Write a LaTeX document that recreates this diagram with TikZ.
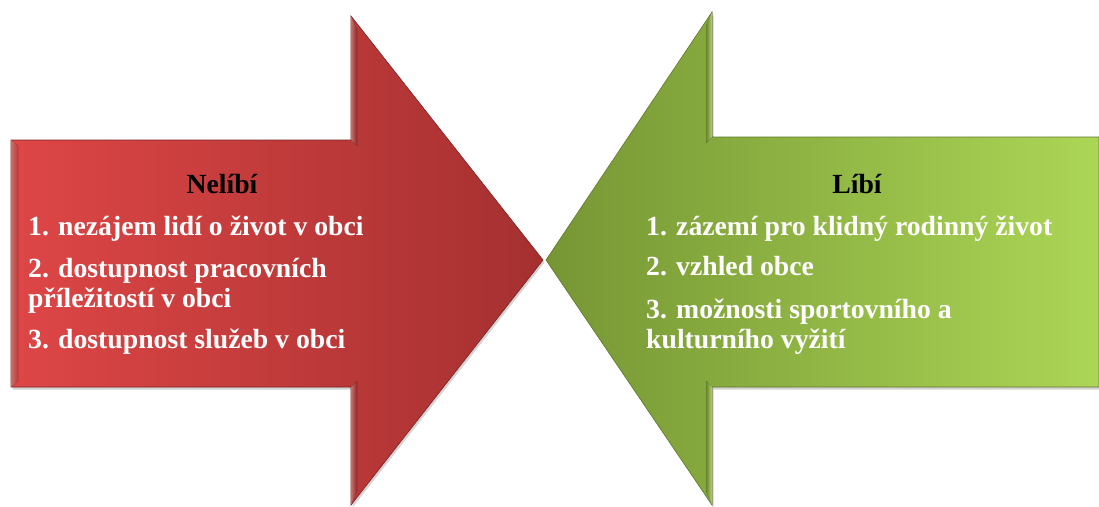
\documentclass[tikz,border=0pt]{standalone}
\usepackage{fontspec}
\setmainfont{Liberation Serif}
\usetikzlibrary{shadows}
\definecolor{redL}{RGB}{222,70,70}
\definecolor{redR}{RGB}{165,48,48}
\definecolor{redHi}{RGB}{245,135,130}
\definecolor{redEdge}{RGB}{120,35,35}
\definecolor{grnL}{RGB}{118,150,52}
\definecolor{grnR}{RGB}{172,214,86}
\definecolor{grnHi}{RGB}{215,245,130}
\definecolor{grnEdge}{RGB}{95,120,40}
\tikzset{
  arrowshape/.style={drop shadow={shadow xshift=1.5pt,shadow yshift=-2.5pt,opacity=0.35}},
  itemtext/.style={inner sep=0pt,text=white,font=\fontsize{27.7}{30}\selectfont\bfseries,align=left},
  titletext/.style={inner sep=0pt,text=black,font=\fontsize{27.7}{30}\selectfont\bfseries}
}
\begin{document}
\begin{tikzpicture}[x=1pt,y=-1pt]
\useasboundingbox (0,0) rectangle (1099,506);
% red arrow
\path[arrowshape,left color=redL,right color=redR,draw=redEdge,line width=0.6pt]
  (11,140) -- (351,140) -- (351,16) -- (543,260) -- (351,505) -- (351,387) -- (11,387) -- cycle;
\fill[left color=redHi,right color=redL,opacity=0.8] (11,140) -- (18,146) -- (18,381) -- (11,387) -- cycle;
\fill[left color=redHi,right color=redR,opacity=0.8] (351,16) -- (357,30) -- (357,146) -- (351,140) -- cycle;
\fill[left color=redHi,right color=redR,opacity=0.8] (351,387) -- (357,381) -- (357,491) -- (351,505) -- cycle;
% green arrow
\path[arrowshape,left color=grnL,right color=grnR,draw=grnEdge,line width=0.6pt]
  (1099,137) -- (712,137) -- (712,12) -- (546,260) -- (712,505) -- (712,387) -- (1099,387) -- cycle;
\fill[left color=grnL,right color=grnHi,opacity=0.85] (712,12) -- (706,26) -- (706,143) -- (712,137) -- cycle;
\fill[left color=grnL,right color=grnHi,opacity=0.85] (712,387) -- (706,381) -- (706,491) -- (712,505) -- cycle;
% red texts
\node[titletext,anchor=base] (nelibi) at (222,193) {Nelíbí};
\node[itemtext,anchor=base west] (r1) at (28,235) {1. nezájem lidí o život v obci};
\node[itemtext,anchor=base west] (r2) at (28,307) {2. dostupnost pracovních\\příležitostí v obci};
\node[itemtext,anchor=base west] (r3) at (28,348) {3. dostupnost služeb v obci};
% green texts
\node[titletext,anchor=base] (libi) at (857,193) {Líbí};
\node[itemtext,anchor=base west] (g1) at (646,235) {1. zázemí pro klidný rodinný život};
\node[itemtext,anchor=base west] (g2) at (646,275) {2. vzhled obce};
\node[itemtext,anchor=base west] (g3) at (646,348) {3. možnosti sportovního a\\kulturního vyžití};
\end{tikzpicture}
\end{document}
